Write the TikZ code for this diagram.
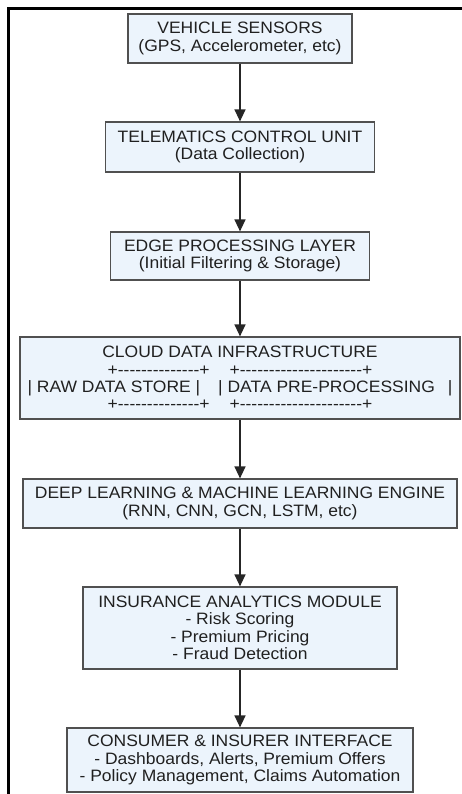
\documentclass[tikz,border=0pt]{standalone}
\usepackage{fontspec}
\usepackage{tikz}
\usetikzlibrary{arrows.meta}
\newfontfamily\boxfont{Liberation Sans}[FakeStretch=1.06]
\definecolor{boxfill}{RGB}{236,244,252}
\definecolor{boxline}{RGB}{80,80,80}
\definecolor{boxtext}{RGB}{32,32,32}
% run of hyphens that never turns into a dash ligature
\newcommand{\dashrun}[1]{\foreach \k in {1,...,#1}{-\kern0pt}}

\begin{document}
\begin{tikzpicture}[x=1pt,y=-1pt,
    stage/.style={draw=boxline,line width=1.2pt,fill=boxfill,text=boxtext,
      align=center,inner sep=2pt,
      font=\boxfont\fontsize{16.5}{17.4}\selectfont},
    flow/.style={draw=black!85,line width=1.3pt,-{Triangle[width=11pt,length=12pt]}}]
    \useasboundingbox (0,0) rectangle (462,794);

    % Screenshot frame
    \draw[line width=2.5pt] (462,8.5) -| (8.7,794);

    % Pipeline stages
    \node[stage,minimum width=224pt,minimum height=49pt] (sensors) at (240,38.5)
      {VEHICLE SENSORS\\(GPS, Accelerometer, etc)};
    \node[stage,minimum width=269pt,minimum height=50pt] (tcu) at (240,147)
      {TELEMATICS CONTROL UNIT\\(Data Collection)};
    \node[stage,minimum width=259pt,minimum height=48pt] (edge) at (240,256)
      {EDGE PROCESSING LAYER\\(Initial Filtering \& Storage)};
    \node[stage,minimum width=440pt,minimum height=82pt] (cloud) at (240,378)
      {CLOUD DATA INFRASTRUCTURE\\
       +\dashrun{14}+\hspace{20pt}+\dashrun{21}+\\
       | RAW DATA STORE |\hspace{18pt}| DATA PRE-PROCESSING\hspace{13pt}|\\
       +\dashrun{14}+\hspace{20pt}+\dashrun{21}+};
    \node[stage,minimum width=434pt,minimum height=49pt] (engine) at (240,503.5)
      {DEEP LEARNING \& MACHINE LEARNING ENGINE\\(RNN, CNN, GCN, LSTM, etc)};
    \node[stage,minimum width=314pt,minimum height=82pt] (analytics) at (240,628)
      {INSURANCE ANALYTICS MODULE\\- Risk Scoring\\- Premium Pricing\\- Fraud Detection};
    \node[stage,minimum width=346pt,minimum height=64pt] (iface) at (240,760)
      {CONSUMER \& INSURER INTERFACE\\- Dashboards, Alerts, Premium Offers\\- Policy Management, Claims Automation};

    % Arrows between stages
    \draw[flow] (sensors) -- (tcu);
    \draw[flow] (tcu) -- (edge);
    \draw[flow] (edge) -- (cloud);
    \draw[flow] (cloud) -- (engine);
    \draw[flow] (engine) -- (analytics);
    \draw[flow] (analytics) -- (iface);
\end{tikzpicture}
\end{document}
